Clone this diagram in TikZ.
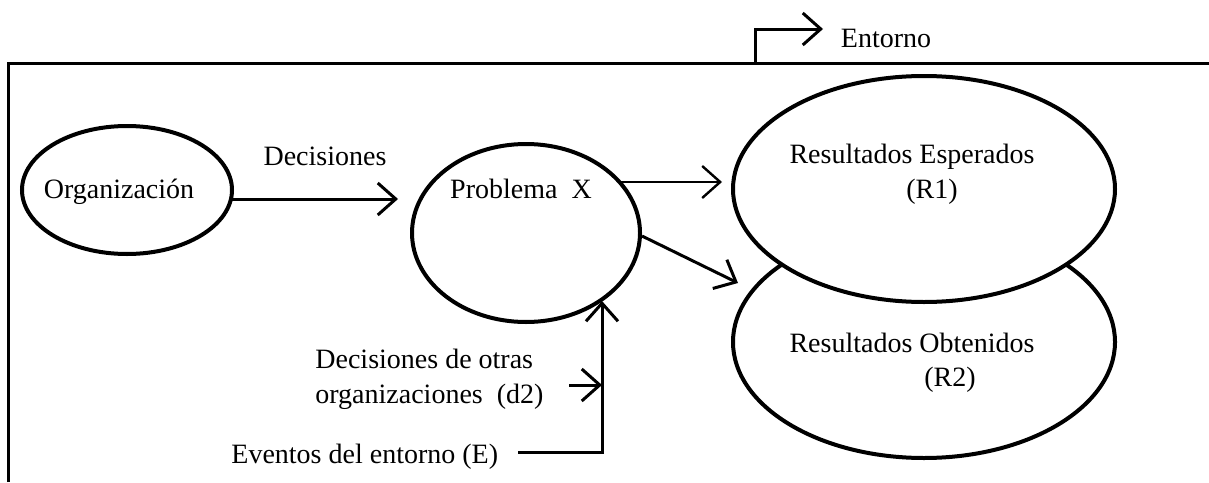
\documentclass[tikz,border=0pt]{standalone}
\usepackage{fontspec}
\setmainfont{Liberation Serif}
\usetikzlibrary{shapes.geometric,arrows.meta}
\begin{document}
\begin{tikzpicture}[x=0.5pt,y=-0.5pt,
  oval/.style={draw,ellipse,line width=2pt,inner sep=0pt},
  frameline/.style={line width=1.5pt},
  arr/.style={line width=1.5pt,-{Straight Barb[length=9pt,width=16pt,line width=1.5pt]}},
  thinarr/.style={line width=0.7pt,-{Straight Barb[length=9pt,width=16pt,line width=1.2pt]}},
  txt/.style={inner sep=0pt,font=\fontsize{14}{17}\selectfont}]
\useasboundingbox (0,0) rectangle (1209,482);
% frame
\coordinate (fl) at (8,482);
\coordinate (ftl) at (8,63);
\coordinate (fr) at (1209,63);
\draw[frameline] (fl) -- (ftl) -- (fr);
% Entorno arrow
\coordinate (e0) at (755,63);
\coordinate (e1) at (755,29);
\coordinate (e2) at (823,29);
\draw[arr,line width=1.5pt] (e0) -- (e1) -- (e2);
\node[txt,anchor=base] (entorno) at (886,47) {Entorno};
% ellipses
\node[oval,minimum width=105pt,minimum height=64pt] (org) at (127,190) {};
\node[oval,minimum width=114pt,minimum height=89pt] (prob) at (526,233) {};
\node[oval,minimum width=191pt,minimum height=116pt] (r2) at (924,342) {};
\node[oval,fill=white,minimum width=191pt,minimum height=113pt] (r1) at (924,189) {};
% texts
\node[txt,anchor=base] (torg) at (119,198) {Organización};
\node[txt,anchor=base] (tprob) at (521,198) {Problema\ \ X};
\node[txt,anchor=base] (tdec) at (325,165) {Decisiones};
\node[txt,anchor=base] (tr1a) at (912,163) {Resultados Esperados};
\node[txt,anchor=base] (tr1b) at (932,198) {(R1)};
\node[txt,anchor=base] (tr2a) at (912,352) {Resultados Obtenidos};
\node[txt,anchor=base] (tr2b) at (950,386) {(R2)};
\node[txt,anchor=base west] (td2a) at (315,368) {Decisiones de otras};
\node[txt,anchor=base west] (td2b) at (315,403) {organizaciones\ \ (d2)};
\node[txt,anchor=base west] (tev) at (231,463) {Eventos del entorno (E)};
% connectors
\coordinate (dstart) at (232,199);
\coordinate (dend) at (398,199);
\draw[arr] (dstart) -- (dend);
\coordinate (p1s) at (620,182);
\coordinate (p1e) at (722,182);
\draw[thinarr] (p1s) -- (p1e);
\coordinate (p2s) at (642,236);
\coordinate (p2e) at (738,283);
\draw[arr] (p2s) -- (p2e);
\coordinate (evs) at (518,452);
\coordinate (evc) at (602,452);
\coordinate (evt) at (602,301);
\draw[arr] (evs) -- (evc) -- (evt);
\coordinate (d2s) at (569,385);
\coordinate (d2e) at (602,385);
\draw[arr] (d2s) -- (d2e);
\end{tikzpicture}
\end{document}
